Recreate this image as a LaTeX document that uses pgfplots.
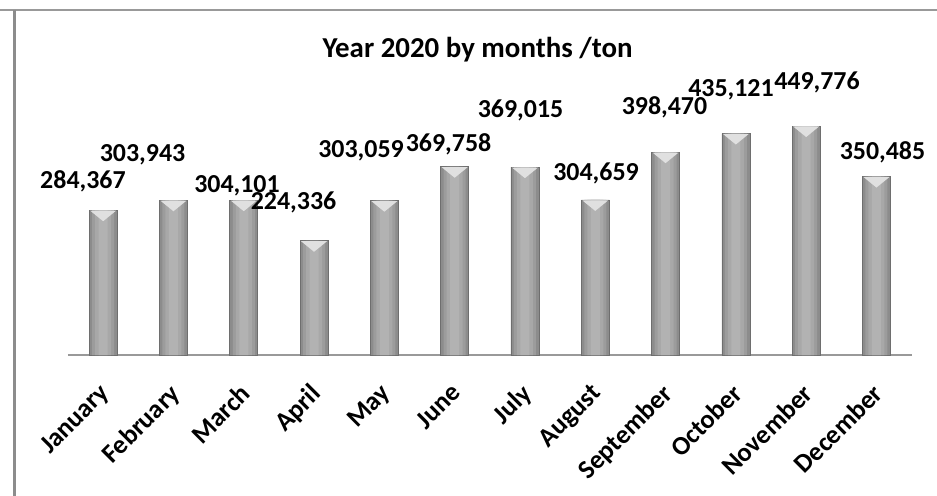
\documentclass[border=0pt]{standalone}
\usepackage{fontspec}
\setmainfont{Carlito}
\usepackage{pgfplots}
\usepackage{pgfplotstable}
\pgfplotsset{compat=1.18}

\pgfplotstableread{
x v
0 284367
1 303943
2 304101
3 224336
4 303059
5 369758
6 369015
7 304659
8 398470
9 435121
10 449776
11 350485
}\bardata

\pgfplotstableread{
x y lab
-0.287 326130 284,367
0.560 379175 303,943
1.904 318271 304,101
2.708 284872 224,336
3.668 387033 303,059
4.913 398821 369,758
5.937 465619 369,015
7.011 341847 304,659
7.985 471513 398,470
8.931 506876 435,121
10.154 520629 449,776
11.086 383104 350,485
}\labeldata

\pgfdeclareplotmark{bevel}{%
  \pgfpathmoveto{\pgfpoint{-13bp}{-0.4bp}}%
  \pgfpathlineto{\pgfpoint{13bp}{-0.4bp}}%
  \pgfpathlineto{\pgfpoint{0bp}{-11bp}}%
  \pgfpathclose
  \pgfusepathqfill}

\begin{document}
\begin{tikzpicture}
\useasboundingbox (-68bp,-141bp) rectangle (869bp,355bp);
\draw[black!40, line width=2bp] (-68bp,345bp) -- (869bp,345bp);
\draw[black!45, line width=3bp] (-53.5bp,345bp) -- (-53.5bp,-141bp);
\begin{axis}[
  at={(0,0)}, anchor=south west,
  scale only axis, width=843.6bp, height=315.6bp,
  xmin=-0.5, xmax=11.5, ymin=0, ymax=620000,
  clip=false,
  axis y line=none, ytick=\empty,
  axis x line*=bottom,
  x axis line style={-, draw=black!40, line width=1.5bp},
  xtick={0,...,11},
  xticklabels={January,February,March,April,May,June,July,August,September,October,November,December},
  major tick length=0pt,
  xticklabel style={xshift=-5bp, yshift=-27bp, rotate=45, anchor=north east, inner sep=0pt,
    font=\bfseries\fontsize{26.5}{27}\selectfont},
]
\addplot[ybar, bar width=28bp, bar shift=0pt, draw=black!57, line width=0.7bp, fill=black!45]
  table[x=x, y=v] {\bardata};
\addplot[ybar, bar width=22bp, bar shift=0pt, draw=none, fill=black!39]
  table[x=x, y=v] {\bardata};
\addplot[ybar, bar width=16bp, bar shift=0pt, draw=none, fill=black!34]
  table[x=x, y=v] {\bardata};
\addplot[ybar, bar width=9bp, bar shift=0pt, draw=none, fill=black!30]
  table[x=x, y=v] {\bardata};
\addplot[only marks, mark=bevel, color=white!88!black]
  table[x=x, y=v] {\bardata};
\addplot[draw=none, mark=none, nodes near coords, point meta=explicit symbolic,
  nodes near coords style={anchor=base, inner sep=0pt, text=black,
    font=\bfseries\fontsize{26}{26}\selectfont}]
  table[x=x, y=y, meta=lab] {\labeldata};
\end{axis}
\node[anchor=base, font=\bfseries\fontsize{29}{29}\selectfont] at (409.5bp,297bp) {Year 2020 by months /ton};
\end{tikzpicture}
\end{document}
